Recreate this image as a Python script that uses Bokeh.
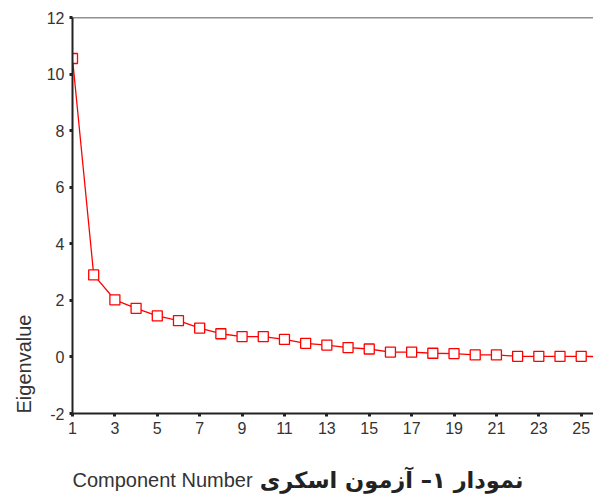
from bokeh.plotting import figure
from bokeh.layouts import column
from bokeh.models import Span, FixedTicker, PrintfTickFormatter, Title, Range1d
from bokeh.core.properties import value
from bokeh.embed import file_html
from bokeh.resources import INLINE

components = list(range(1, 27))
eigenvalues = [10.55, 2.90, 2.02, 1.72, 1.45, 1.28, 1.02, 0.82, 0.72, 0.72,
               0.62, 0.48, 0.42, 0.33, 0.28, 0.17, 0.17, 0.13, 0.12, 0.07,
               0.07, 0.02, 0.02, 0.02, 0.02, 0.01]
x_ticks = list(range(1, 26, 2))
y_ticks = [-2, 0, 2, 4, 6, 8, 10, 12]
title_en = "Component Number"
title_fa = "نمودار ۱– آزمون اسکری"
y_title = "Eigenvalue"

p = figure(width=593, height=450, output_backend="svg", toolbar_location=None,
           x_range=(1, 25.58), y_range=(-2, 12),
           min_border_left=72, min_border_right=0, min_border_top=17, min_border_bottom=37)
p.outline_line_color = None
p.grid.grid_line_color = None
p.background_fill_color = "white"

for ax in (p.xaxis[0], p.yaxis[0]):
    ax.axis_line_color = "#222222"
    ax.axis_line_width = 2
    ax.major_tick_line_color = "#222222"
    ax.major_tick_line_width = 3
    ax.major_tick_out = 3
    ax.major_tick_in = 0
    ax.minor_tick_line_color = None
    ax.major_label_text_font = "Liberation Sans"
    ax.major_label_text_font_size = "16px"
    ax.major_label_text_color = "#333333"
    ax.major_label_standoff = 5

p.xaxis[0].ticker = FixedTicker(ticks=x_ticks)
p.yaxis[0].ticker = FixedTicker(ticks=y_ticks)
p.xaxis[0].formatter = PrintfTickFormatter(format="%d")
p.yaxis[0].formatter = PrintfTickFormatter(format="%d")

p.add_layout(Title(text=y_title, align="left", offset=0, standoff=17,
                   text_font="Liberation Sans", text_font_style="normal",
                   text_font_size="20px", text_color="#333333"), "left")

p.add_layout(Span(location=12, dimension="width", line_color="#222222", line_width=1.5))

p.line(components, eigenvalues, line_color="#ff0000", line_width=1.3)
p.scatter(components, eigenvalues, marker="square", size=10, line_color="#ff0000",
          line_width=1.3, fill_color="white")

# caption strip below the chart (its frame is aligned with the chart frame)
cap = figure(width=593, height=44, output_backend="svg", toolbar_location=None,
             x_range=Range1d(72, 593), y_range=Range1d(0, 44),
             x_axis_location=None, y_axis_location=None, min_border=0)
cap.outline_line_color = None
cap.grid.grid_line_color = None
cap.text(x=[72], y=[15], text=[title_en], text_font=value("Liberation Sans"),
         text_font_size=value("20px"), text_align="left", text_baseline="middle",
         text_color="#333333")
cap.text(x=[523], y=[15], text=[title_fa], text_font=value("DejaVu Sans"),
         text_font_style="bold", text_font_size=value("22.5px"),
         text_align="right", text_baseline="middle", text_color="#222222")

layout = column(p, cap, spacing=0)
open("out.html", "w").write(file_html(layout, INLINE))
